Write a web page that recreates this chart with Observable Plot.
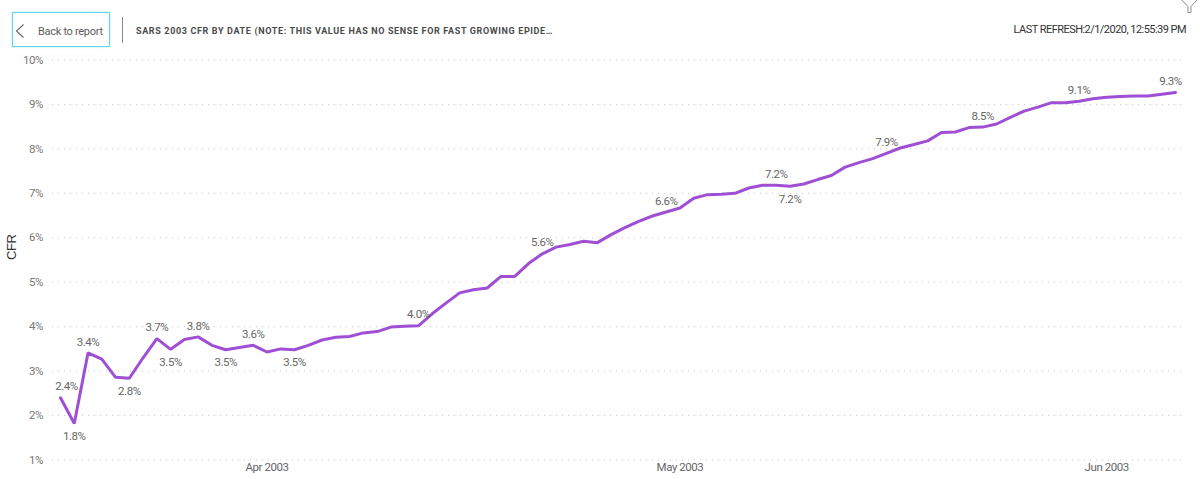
<!DOCTYPE html>
<html>
<head>
<meta charset="utf-8">
<script src="https://cdn.jsdelivr.net/npm/d3@7"></script>
<script src="https://cdn.jsdelivr.net/npm/@observablehq/plot@0.6"></script>
<style>
html,body{margin:0;padding:0;background:#fff;}
#wrap{position:relative;width:1200px;height:479px;overflow:hidden;}
#chart svg{display:block;background:#fff;}
#chart svg text{letter-spacing:-.45px;}
.hdr{position:absolute;white-space:nowrap;}
#btn{left:12px;top:12px;width:96px;height:33px;border:1.5px solid #5fd8ef;box-shadow:0 0 2px #9fe6f5;background:#fff;}
#btnText{left:38px;top:24px;font:11px/16px Roboto,sans-serif;color:#605e5c;letter-spacing:-.3px;}
#sep{left:122px;top:17px;width:1px;height:26px;background:#8a8a8a;}
#title{left:136px;top:23.5px;font:700 9px/14px Roboto,sans-serif;letter-spacing:.64px;color:#4a4a4a;}
#refresh{right:14px;top:22px;font:11px/16px Roboto,sans-serif;color:#333;letter-spacing:-.54px;}
</style>
</head>
<body>
<div id="wrap">
  <div id="chart"></div>
  <div class="hdr" id="btn"></div>
  <svg class="hdr" style="left:14px;top:23px" width="12" height="16" viewBox="0 0 12 16"><path d="M9.5 1.5 L2.5 8 L9.5 14.5" fill="none" stroke="#666" stroke-width="1.1"/></svg>
  <div class="hdr" id="btnText">Back to report</div>
  <div class="hdr" id="sep"></div>
  <div class="hdr" id="title">SARS 2003 CFR BY DATE (NOTE: THIS VALUE HAS NO SENSE FOR FAST GROWING EPIDE…</div>
  <div class="hdr" id="refresh">LAST REFRESH:2/1/2020, 12:55:39 PM</div>
  <svg class="hdr" style="left:1181px;top:0" width="17" height="13" viewBox="0 0 17 13"><path d="M0.8 0 L7 6.5 L7 12.5 L10 12.5 L10 6.5 L16 0" fill="none" stroke="#8c8c8c" stroke-width="1"/></svg>
</div>
<script>
const startDay = "2003-03-17";
const cfrValues = [
  2.40,1.82,3.41,3.27,2.86,2.84,3.30,3.73,3.49,3.71,3.77,3.58,3.48,3.53,3.58,
  3.43,3.50,3.48,3.58,3.70,3.76,3.78,3.86,3.89,3.99,4.01,4.02,4.29,4.53,4.76,
  4.83,4.87,5.13,5.13,5.42,5.64,5.79,5.85,5.92,5.89,6.07,6.23,6.37,6.49,6.58,
  6.67,6.89,6.97,6.98,7.00,7.12,7.18,7.18,7.16,7.21,7.31,7.40,7.59,7.69,7.78,
  7.90,8.02,8.10,8.18,8.37,8.38,8.48,8.49,8.56,8.71,8.85,8.94,9.04,9.04,9.07,
  9.13,9.16,9.18,9.19,9.19,9.23,9.27
];
const labelsAbove = ["2003-03-19","2003-03-24","2003-03-27","2003-03-31","2003-04-12","2003-04-21","2003-04-30","2003-05-08","2003-05-16","2003-05-23","2003-05-30"];
const labelsBelow = ["2003-03-18","2003-03-22","2003-03-25","2003-03-29","2003-04-03","2003-05-09"];
const labelFirst = ["2003-03-17"];
const labelLast = ["2003-06-06"];
const xTicks = ["2003-04-01","2003-05-01","2003-06-01"];
const yTicks = [1,2,3,4,5,6,7,8,9,10];

const start = new Date(startDay + "T00:00Z");
const rows = cfrValues.map((cfr, i) => ({date: d3.utcDay.offset(start, i), cfr}));
const iso = d3.utcFormat("%Y-%m-%d");
const pick = list => rows.filter(d => list.includes(iso(d.date)));
const pct = d => d3.format(".1f")(d.cfr) + "%";
const font = 'Roboto, sans-serif';
const labelOpts = {x: "date", y: "cfr", text: pct, fill: "#666", fontSize: 11.5, fontFamily: font};

const plot = Plot.plot({
  width: 1200, height: 479,
  marginLeft: 52, marginRight: 18, marginTop: 59.5, marginBottom: 19.5,
  x: {type: "utc", domain: [rows[0].date, rows[rows.length - 1].date], range: [60, 1175]},
  y: {domain: [1, 10], range: [459.5, 59.5]},
  style: {background: "#fff", fontFamily: font},
  marks: [
    Plot.ruleY(yTicks, {stroke: "#c4c4c4", strokeWidth: 1, strokeDasharray: "1,5"}),
    Plot.axisY({ticks: yTicks, tickSize: 0, tickPadding: 9.5, tickFormat: d => d + "%", fontSize: 11.5, color: "#777", label: null}),
    Plot.text(["CFR"], {frameAnchor: "left", dx: -41, rotate: -90, fill: "#333", fontSize: 13, fontFamily: '"Liberation Sans", sans-serif'}),
    Plot.axisX({ticks: xTicks.map(d => new Date(d + "T00:00Z")), tickSize: 0, tickPadding: 3, tickFormat: d3.utcFormat("%b %Y"), fontSize: 11.5, color: "#666", label: null}),
    Plot.line(rows, {x: "date", y: "cfr", stroke: "#9e4fd4", strokeWidth: 3, strokeLinejoin: "miter", curve: "linear"}),
    Plot.text(pick(labelsAbove), {...labelOpts, dy: -11}),
    Plot.text(pick(labelsBelow), {...labelOpts, dy: 13}),
    Plot.text(pick(labelFirst), {...labelOpts, dy: -11, dx: 6}),
    Plot.text(pick(labelLast), {...labelOpts, dy: -11, dx: -5})
  ]
});
document.getElementById("chart").appendChild(plot);
</script>
</body>
</html>
